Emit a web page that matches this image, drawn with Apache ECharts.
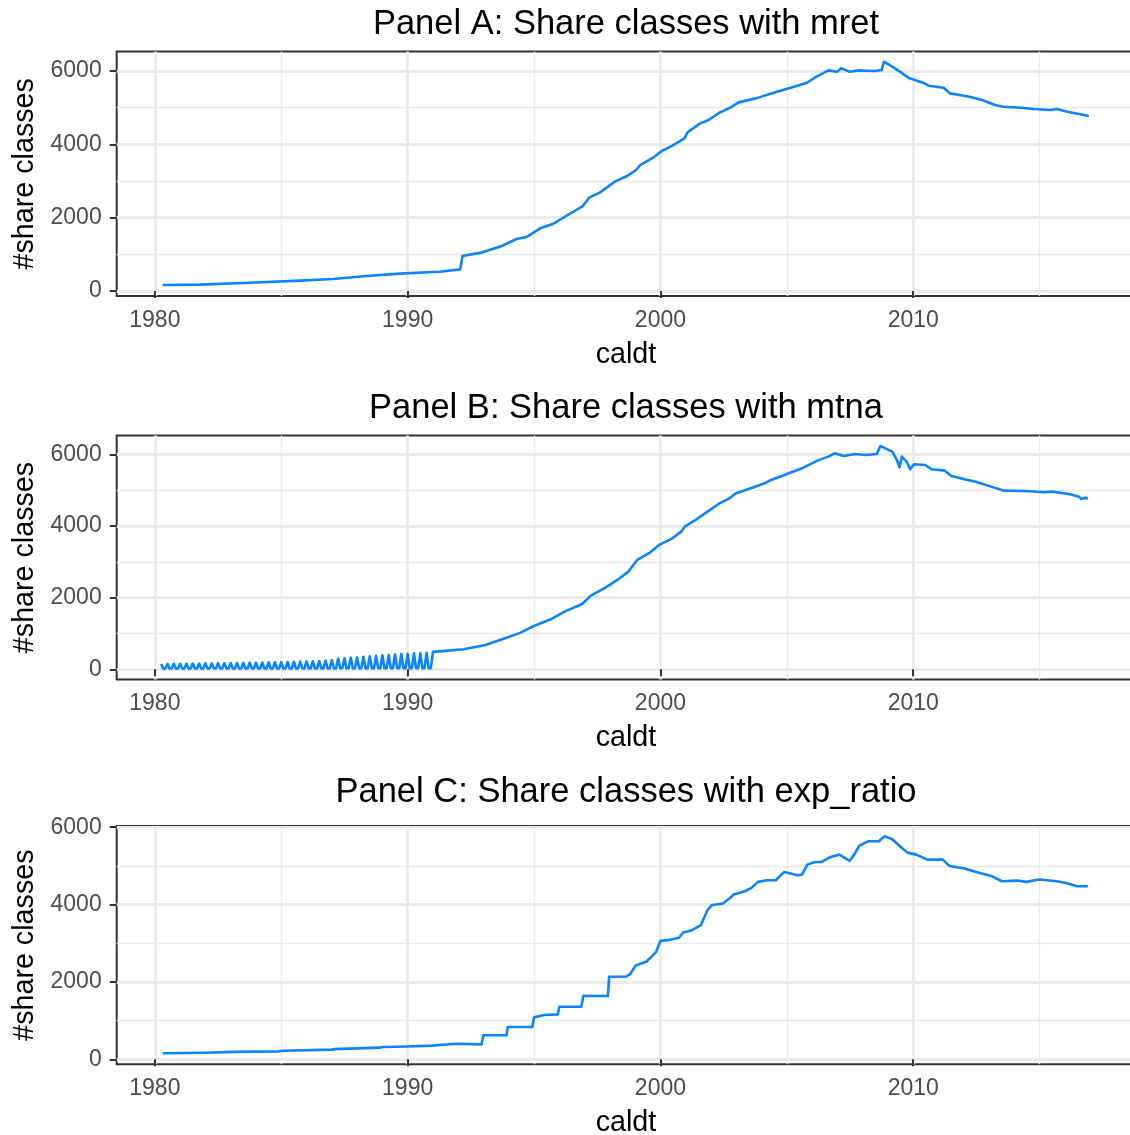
<!DOCTYPE html>
<html><head><meta charset="utf-8">
<script src="https://cdn.jsdelivr.net/npm/echarts@6/dist/echarts.min.js"></script>
<style>html,body{margin:0;padding:0;background:#fff}#c{width:1130px;height:1135px}</style>
</head><body><div id="c"></div>
<script>
// ---- tick labels ----
const xTicks = [1980, 1990, 2000, 2010];
const xMinorTicks = [1985, 1995, 2005, 2015];
const yTicks = [0, 2000, 4000, 6000];
const yMinorTicks = [1000, 3000, 5000];
const titles = ['Panel A: Share classes with mret', 'Panel B: Share classes with mtna', 'Panel C: Share classes with exp_ratio'];

// ---- Panel A (mret) ----
const aYears = [1980.31, 1981.78, 1983.76, 1985.73, 1987.05, 1988.37, 1989.69, 1991.0, 1991.27, 1992.08, 1992.17, 1992.96, 1993.72, 1994.31, 1994.73, 1995.24, 1995.74, 1996.33, 1996.93, 1997.18, 1997.6, 1998.2, 1998.7, 1999.04, 1999.2, 1999.71, 2000.05, 2000.47, 2000.95, 2001.07, 2001.57, 2001.91, 2002.33, 2002.76, 2003.09, 2003.77, 2004.61, 2005.29, 2005.8, 2006.14, 2006.64, 2006.98, 2007.15, 2007.49, 2007.83, 2008.16, 2008.5, 2008.75, 2008.84, 2009.17, 2009.51, 2009.85, 2010.36, 2010.61, 2011.2, 2011.46, 2012.22, 2012.73, 2013.23, 2013.57, 2014.25, 2014.76, 2015.43, 2015.69, 2016.1, 2016.95];
const aValues = [164, 173, 227, 282, 327, 409, 473, 518, 527, 591, 955, 1054, 1227, 1418, 1482, 1709, 1827, 2073, 2318, 2545, 2682, 2982, 3145, 3300, 3436, 3636, 3818, 3963, 4163, 4327, 4572, 4663, 4863, 5000, 5145, 5254, 5436, 5572, 5681, 5836, 6018, 5981, 6072, 5981, 6018, 6009, 6000, 6027, 6254, 6118, 5963, 5800, 5690, 5600, 5545, 5390, 5300, 5209, 5072, 5027, 5000, 4963, 4936, 4963, 4890, 4772];

// ---- Panel B (mtna): monthly values Mar 1980 .. Nov 1990 (quarter-end months reported) ----
const bEarlyStartYear = 1980.25; // month-end Mar 1980
const bEarlyValues = [
  150, 18, 20, 150, 18, 20, 155, 18, 20, 155, 19, 20,
  155, 19, 20, 160, 19, 21, 160, 19, 21, 165, 19, 21,
  165, 20, 21, 170, 20, 22, 170, 20, 22, 175, 20, 22,
  175, 20, 22, 180, 21, 22, 185, 21, 23, 185, 21, 23,
  190, 21, 23, 195, 22, 23, 200, 22, 24, 200, 22, 24,
  205, 22, 24, 210, 23, 24, 215, 23, 25, 220, 23, 25,
  225, 23, 25, 230, 24, 26, 240, 24, 26, 250, 24, 26,
  300, 25, 27, 310, 25, 27, 320, 25, 28, 330, 26, 28,
  350, 26, 28, 360, 26, 29, 375, 27, 29, 390, 27, 29,
  400, 27, 30, 415, 28, 30, 425, 28, 30, 435, 28, 31,
  445, 29, 31, 450, 29, 31, 460, 29, 31
];
const bYears = [1991.0, 1991.5, 1992.21, 1993.08, 1993.77, 1994.47, 1994.99, 1995.69, 1996.21, 1996.9, 1997.25, 1997.77, 1998.3, 1998.73, 1999.08, 1999.6, 1999.95, 2000.47, 2000.82, 2000.96, 2001.43, 2001.86, 2002.3, 2002.73, 2002.99, 2003.69, 2004.12, 2004.38, 2004.9, 2005.6, 2006.21, 2006.64, 2006.9, 2007.25, 2007.69, 2008.12, 2008.56, 2008.7, 2009.17, 2009.34, 2009.46, 2009.55, 2009.74, 2009.88, 2010.03, 2010.47, 2010.73, 2011.25, 2011.51, 2012.03, 2012.47, 2013.08, 2013.6, 2014.47, 2015.17, 2015.51, 2016.21, 2016.56, 2016.64, 2016.82, 2016.91];
const bValues = [485, 515, 558, 679, 846, 1023, 1209, 1405, 1609, 1823, 2056, 2260, 2493, 2725, 3051, 3265, 3470, 3656, 3842, 3981, 4186, 4400, 4614, 4772, 4911, 5079, 5191, 5284, 5423, 5609, 5823, 5935, 6028, 5953, 6009, 5981, 6009, 6232, 6074, 5860, 5637, 5935, 5795, 5581, 5721, 5702, 5581, 5544, 5395, 5302, 5237, 5098, 4986, 4976, 4939, 4958, 4884, 4818, 4753, 4790, 4753];

// ---- Panel C (exp_ratio) ----
const cYears = [1980.31, 1982.0, 1983.1, 1984.9, 1985.05, 1987.0, 1987.1, 1988.9, 1989.0, 1990.0, 1990.94, 1991.0, 1991.93, 1992.0, 1992.92, 1993.0, 1993.91, 1993.96, 1994.93, 1995.0, 1995.4, 1995.94, 1996.0, 1996.87, 1996.95, 1997.92, 1997.97, 1998.65, 1998.8, 1999.02, 1999.44, 1999.64, 1999.83, 2000.0, 2000.29, 2000.73, 2000.9, 2001.25, 2001.6, 2001.77, 2001.86, 2002.03, 2002.47, 2002.73, 2002.9, 2003.34, 2003.6, 2003.86, 2004.21, 2004.56, 2004.9, 2005.43, 2005.6, 2005.81, 2006.12, 2006.38, 2006.73, 2007.08, 2007.34, 2007.48, 2007.69, 2007.86, 2008.21, 2008.64, 2008.87, 2009.17, 2009.51, 2009.77, 2010.12, 2010.56, 2011.17, 2011.43, 2012.03, 2012.56, 2013.08, 2013.51, 2014.12, 2014.47, 2014.99, 2015.69, 2016.12, 2016.47, 2016.9];
const cValues = [155, 170, 190, 205, 222, 250, 262, 300, 318, 330, 352, 403, 400, 384, 384, 619, 619, 834, 834, 1083, 1143, 1161, 1358, 1358, 1642, 1634, 2132, 2140, 2202, 2425, 2520, 2648, 2777, 3061, 3079, 3140, 3277, 3338, 3467, 3725, 3854, 3983, 4026, 4155, 4258, 4344, 4430, 4585, 4628, 4628, 4843, 4757, 4774, 5032, 5101, 5101, 5230, 5290, 5187, 5127, 5316, 5514, 5634, 5634, 5763, 5686, 5488, 5342, 5290, 5161, 5161, 4998, 4929, 4826, 4740, 4602, 4619, 4585, 4645, 4602, 4542, 4473, 4473];

// ---- build series data ----
const zip = (xs, ys) => xs.map((x, i) => [x, ys[i]]);
const bData = bEarlyValues.map((v, i) => [bEarlyStartYear + i / 12, v]).concat(zip(bYears, bValues));
const seriesData = [zip(aYears, aValues), bData, zip(cYears, cValues)];

// ---- layout ----
const FONT = '"Liberation Sans", Arial, Helvetica, sans-serif';
const LEFT = 116.7, WIDTH = 1018.5;
const X_MIN = 1978.49, X_MAX = 2018.78;
const panels = [
  { top: 51.6, height: 244.35, yMin: -135, yMax: 6530, titleY: 24 },
  { top: 435.5, height: 244.0, yMin: -285, yMax: 6525, titleY: 408 },
  { top: 826.0, height: 238.3, yMin: -130, yMax: 6030, titleY: 792.5 }
];
const LINE = '#0A84FF';

const grid = [], xAxis = [], yAxis = [], series = [], graphic = [];
panels.forEach((p, i) => {
  grid.push({ left: LEFT, top: p.top, width: WIDTH, height: p.height, show: true,
    outerBoundsMode: 'none',
    borderColor: '#333333', borderWidth: 2, backgroundColor: 'rgba(0,0,0,0)', containLabel: false });
  // major x
  xAxis.push({ gridIndex: i, type: 'value', min: X_MIN, max: X_MAX, position: 'bottom',
    axisLine: { show: false },
    axisTick: { show: true, length: 7, lineStyle: { color: '#333333', width: 2 }, customValues: xTicks },
    axisLabel: { customValues: xTicks, color: '#4D4D4D', fontSize: 23, fontFamily: FONT, margin: 13,
      formatter: v => String(v) },
    splitLine: { show: true, lineStyle: { color: '#EBEBEB', width: 2.8 } },
    name: 'caldt', nameLocation: 'middle', nameGap: 44.5,
    nameTextStyle: { fontSize: 28.7, color: '#000000', fontFamily: FONT } });
  // minor x
  xAxis.push({ gridIndex: i, type: 'value', min: X_MIN, max: X_MAX, position: 'bottom',
    axisLine: { show: false },
    axisTick: { show: false, customValues: xMinorTicks },
    axisLabel: { show: false, customValues: xMinorTicks },
    splitLine: { show: true, lineStyle: { color: '#EBEBEB', width: 1.4 } } });
  // major y
  yAxis.push({ gridIndex: i, type: 'value', min: p.yMin, max: p.yMax, position: 'left',
    axisLine: { show: false },
    axisTick: { show: true, length: 7, lineStyle: { color: '#333333', width: 2 }, customValues: yTicks },
    axisLabel: { customValues: yTicks, color: '#4D4D4D', fontSize: 23, fontFamily: FONT, margin: 15,
      formatter: v => String(v) },
    splitLine: { show: true, lineStyle: { color: '#EBEBEB', width: 2.8 } },
    name: '#share classes', nameLocation: 'middle', nameGap: 76,
    nameTextStyle: { fontSize: 28.7, color: '#000000', fontFamily: FONT } });
  // minor y
  yAxis.push({ gridIndex: i, type: 'value', min: p.yMin, max: p.yMax, position: 'left',
    axisLine: { show: false },
    axisTick: { show: false, customValues: yMinorTicks },
    axisLabel: { show: false, customValues: yMinorTicks },
    splitLine: { show: true, lineStyle: { color: '#EBEBEB', width: 1.4 } } });
  series.push({ type: 'line', xAxisIndex: 2 * i, yAxisIndex: 2 * i, data: seriesData[i],
    showSymbol: false, symbol: 'none', clip: true, z: 5,
    lineStyle: { color: LINE, width: 2.6, join: 'round' }, itemStyle: { color: LINE } });
  graphic.push({ type: 'text', x: 626, y: p.titleY, z: 10,
    style: { text: titles[i], fill: '#000000', fontSize: 34.5, fontFamily: FONT,
      align: 'center', verticalAlign: 'middle', textAlign: 'center', textVerticalAlign: 'middle' } });
});

const chart = echarts.init(document.getElementById('c'), null, { renderer: 'canvas' });
chart.setOption({ animation: false, backgroundColor: '#ffffff', grid, xAxis, yAxis, series, graphic });
</script></body></html>
